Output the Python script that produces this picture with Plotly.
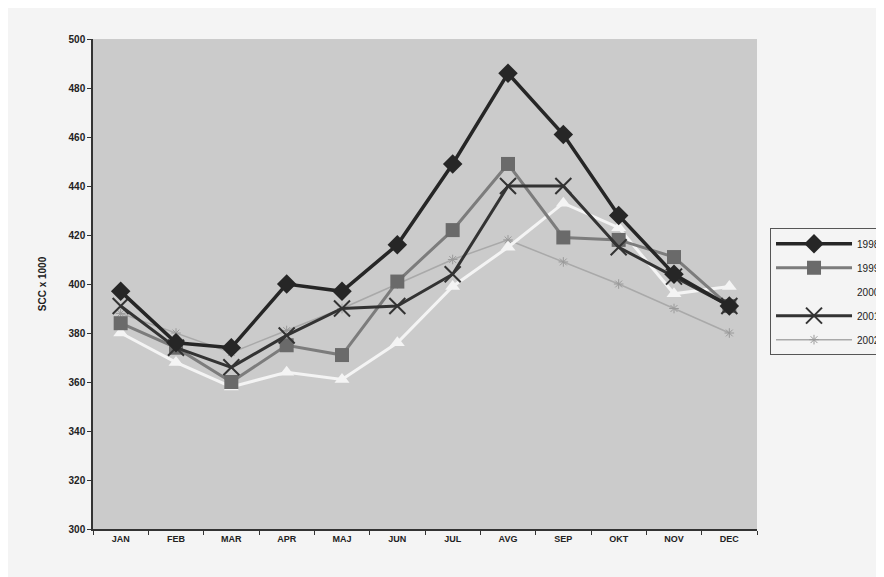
import plotly.graph_objects as go

months = ['JAN', 'FEB', 'MAR', 'APR', 'MAJ', 'JUN', 'JUL', 'AVG', 'SEP', 'OKT', 'NOV', 'DEC']
s1998 = [397, 376, 374, 400, 397, 416, 449, 486, 461, 428, 404, 391]
s1999 = [384, 374, 360, 375, 371, 401, 422, 449, 419, 418, 411, 391]
s2000 = [380, 368, 358, 364, 361, 376, 399, 415, 433, 423, 396, 399]
s2001 = [391, 374, 366, 379, 390, 391, 404, 440, 440, 415, 403, 391]
s2002 = [388, 380, 372, 381, 390, 400, 410, 418, 409, 400, 390, 380]
y_ticks = [300, 320, 340, 360, 380, 400, 420, 440, 460, 480, 500]

fig = go.Figure()
fig.add_trace(go.Scatter(x=months, y=s2002, name='2002', mode='lines+markers',
                         legendrank=5, legendgroup='g2002',
                         line=dict(color='#a9a9a9', width=1.5),
                         marker=dict(symbol='asterisk-open', size=8, color='#9a9a9a', line=dict(width=1, color='#9a9a9a'))))
fig.add_trace(go.Scatter(x=months, y=s2000, name='2000', mode='lines+markers',
                         legendrank=3, legendgroup='g2000',
                         line=dict(color='#f4f4f4', width=3),
                         marker=dict(symbol='triangle-up', size=13, color='#f4f4f4')))
fig.add_trace(go.Scatter(x=months, y=s1999, name='1999', mode='lines+markers',
                         legendrank=2, legendgroup='g1999',
                         line=dict(color='#7c7c7c', width=3),
                         marker=dict(symbol='square', size=14, color='#6a6a6a')))
fig.add_trace(go.Scatter(x=months, y=s2001, name='2001', mode='lines+markers',
                         legendrank=4, legendgroup='g2001',
                         line=dict(color='#333333', width=3),
                         marker=dict(symbol='x-thin-open', size=16, color='#333333', line=dict(width=2, color='#333333'))))
fig.add_trace(go.Scatter(x=months, y=s1998, name='1998', mode='lines+markers',
                         legendrank=1, legendgroup='g1998',
                         line=dict(color='#262626', width=3.5),
                         marker=dict(symbol='diamond', size=15, color='#262626')))

fig.update_layout(
    width=884, height=577,
    margin=dict(l=85, r=135, t=31, b=56, autoexpand=False),
    paper_bgcolor='#f4f4f4',
    plot_bgcolor='#cbcbcb',
    font=dict(family='Arial, Liberation Sans, sans-serif', color='#222222'),
    showlegend=True,
    legend=dict(x=1.0196, xanchor='left', y=0.614, yanchor='top',
                bgcolor='rgba(0,0,0,0)', bordercolor='#555555', borderwidth=1,
                font=dict(size=10, color='#222222'), itemwidth=76,
                tracegroupgap=5),
    xaxis=dict(type='category', categoryorder='array', categoryarray=months,
               tickson='boundaries', ticks='outside', ticklen=4, tickcolor='#333333',
               showline=True, linecolor='#333333', linewidth=1.5, showgrid=False,
               tickfont=dict(size=9, color='#222222', weight='bold'), range=[-0.5, 11.5]),
    yaxis=dict(range=[300, 500], tickvals=y_ticks, ticks='outside', ticklen=4,
               tickcolor='#333333', showline=True, linecolor='#333333', linewidth=1.5,
               showgrid=False, zeroline=False,
               tickfont=dict(size=10, color='#222222', weight='bold'),
               title=dict(text='SCC x 1000', font=dict(size=10, color='#222222', weight='bold'), standoff=20)),
)

fig.write_html('out.html')
